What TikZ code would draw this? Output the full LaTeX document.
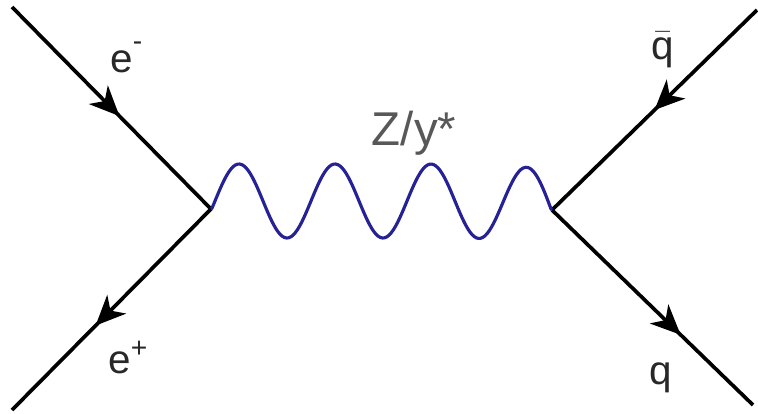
\documentclass[tikz,border=0pt]{standalone}
\usepackage{fontspec}
\setmainfont{Liberation Sans}
\usepackage{tikz}
\usetikzlibrary{arrows.meta,decorations.markings}
\definecolor{FDblue}{RGB}{38,34,150}
\definecolor{FDgray}{RGB}{88,88,88}
\definecolor{FDtext}{RGB}{40,40,40}
\tikzset{
  fermion/.style={line width=2.1pt,draw=black,postaction={decorate},
    decoration={markings,mark=at position #1 with {\arrow{Stealth[length=17pt,width=15pt,inset=5pt]}}}},
  fermion/.default=0.55,
  boson/.style={line width=1.8pt,draw=FDblue,line join=round},
  plabel/.style={text=FDtext,font=\fontsize{23}{26}\selectfont,inner sep=0pt},
  blabel/.style={text=FDgray,font=\fontsize{27}{30}\selectfont,inner sep=0pt}
}
\begin{document}
\begin{tikzpicture}[x=0.02cm,y=-0.02cm]
  \useasboundingbox (0,0) rectangle (758,413);
  \coordinate (vl) at (211,209);
  \coordinate (vr) at (552,210);
  \coordinate (emin) at (12,7);
  \coordinate (eplus) at (12,410);
  \coordinate (qbar) at (757,10);
  \coordinate (q) at (753,405);
  \draw[fermion=0.54] (emin) -- (vl);
  \draw[fermion=0.58] (vl) -- (eplus);
  \draw[fermion=0.5] (qbar) -- (vr);
  \draw[fermion=0.64] (vr) -- (q);
  \draw[boson] (vl) -- plot[domain=212:551,samples=160] (\x,{201-37*cos(3.75*(\x-239))+8*((\x-212)/339)^12}) -- (vr);
  \node[plabel,anchor=base west] (lemin) at (110,72) {e\textsuperscript{\raisebox{0.35ex}{-}}};
  \node[plabel,anchor=base west] (leplus) at (108,373) {e\textsuperscript{+}};
  \node[plabel,anchor=base west] (lqbar) at (651,59) {$\bar{\mbox{q}}$};
  \node[plabel,anchor=base west] (lq) at (649,384) {q};
  \node[blabel,anchor=base] (lz) at (414,145) {Z/y*};
\end{tikzpicture}
\end{document}
